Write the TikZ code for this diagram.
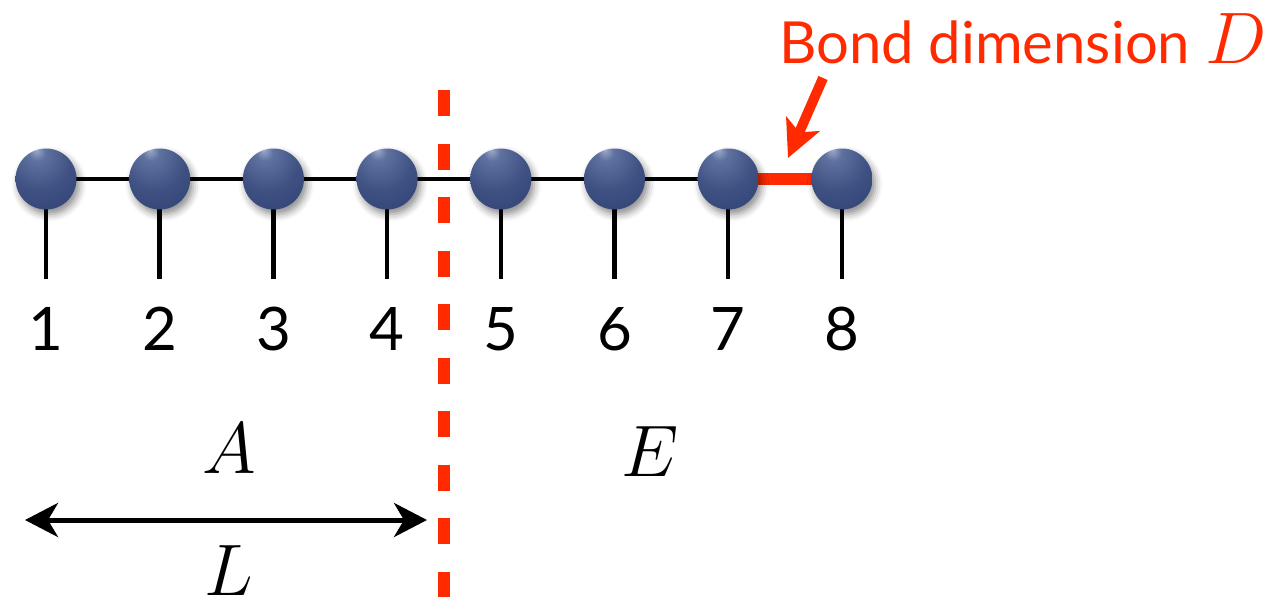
\RequirePackage{fix-cm}
\documentclass[tikz,border=0pt]{standalone}
\usepackage{fontspec}
\setmainfont{Lato}
\usepackage{xcolor}
\definecolor{cutred}{HTML}{FF2A00}
\definecolor{sphhi}{HTML}{9BAACB}
\definecolor{sphlt}{HTML}{5F719F}
\definecolor{sphmid}{HTML}{3F5182}
\definecolor{sphdark}{HTML}{27376A}
\definecolor{sphrim}{HTML}{1B2752}
\usetikzlibrary{arrows.meta,shadows.blur,backgrounds}
\pgfdeclareradialshading{sitesphere}{\pgfpoint{-8bp}{24bp}}{color(0bp)=(sphhi); color(7bp)=(sphlt); color(26bp)=(sphmid); color(58bp)=(sphdark); color(80bp)=(sphrim)}

\begin{document}
\begin{tikzpicture}[
  x=1pt,y=-1pt,
  site/.style={circle,inner sep=0pt,minimum size=61pt,shading=sitesphere,
    blur shadow={shadow xshift=3pt,shadow yshift=-5pt,shadow blur radius=7pt,shadow opacity=45}},
  num/.style={anchor=base,font=\fontsize{60}{66}\selectfont},
  lbl/.style={anchor=base,font=\fontsize{73}{80}\selectfont},
  bond/.style={line width=4.5pt},
  cut/.style={draw=cutred,line width=12pt,dash pattern=on 26pt off 27.5pt},
  pt/.style={-{Stealth[length=37pt,width=36pt,inset=9pt]},draw=cutred,fill=cutred,line width=10pt},
  span/.style={{Stealth[length=33pt,width=34pt,inset=10pt]}-{Stealth[length=33pt,width=34pt,inset=10pt]},line width=5pt}
]
\useasboundingbox (0,0) rectangle (1274,597);
\foreach \i in {1,...,8}{
  \node[site] (s\i) at ({46+113.7*(\i-1)},179) {};
  \coordinate (f\i) at ({46+113.7*(\i-1)},279);
  \node[num] (n\i) at ({46+113.7*(\i-1)},350) {\i};
}
\begin{scope}[on background layer]
\foreach \i in {1,...,8} \draw[bond] (s\i.center) -- (f\i);
\foreach \i/\j in {1/2,2/3,3/4,4/5,5/6,6/7} \draw[bond] (s\i.center) -- (s\j.center);
\draw[line width=12pt,cutred] (s7.center) -- (s8.center);
\end{scope}
% entanglement cut
\coordinate (cuttop) at (444,90);
\coordinate (cutbot) at (444,597);
\draw[cut] (cuttop) -- (cutbot);
% bond dimension label
\node[anchor=base west,inner sep=0pt,text=cutred,font=\fontsize{58}{62}\selectfont] (bd) at (779,63) {Bond dimension \fontsize{73}{80}\selectfont$D$};
\coordinate (ptail) at (823,78);
\coordinate (ptip) at (788,158);
\draw[pt] (ptail) -- (ptip);
% regions
\node[lbl] (A) at (229,473) {$A$};
\node[lbl] (E) at (650,476) {$E$};
\coordinate (Lleft) at (25,520);
\coordinate (Lright) at (427,520);
\draw[span] (Lleft) -- (Lright);
\node[lbl] (L) at (229,595) {$L$};
\end{tikzpicture}
\end{document}
